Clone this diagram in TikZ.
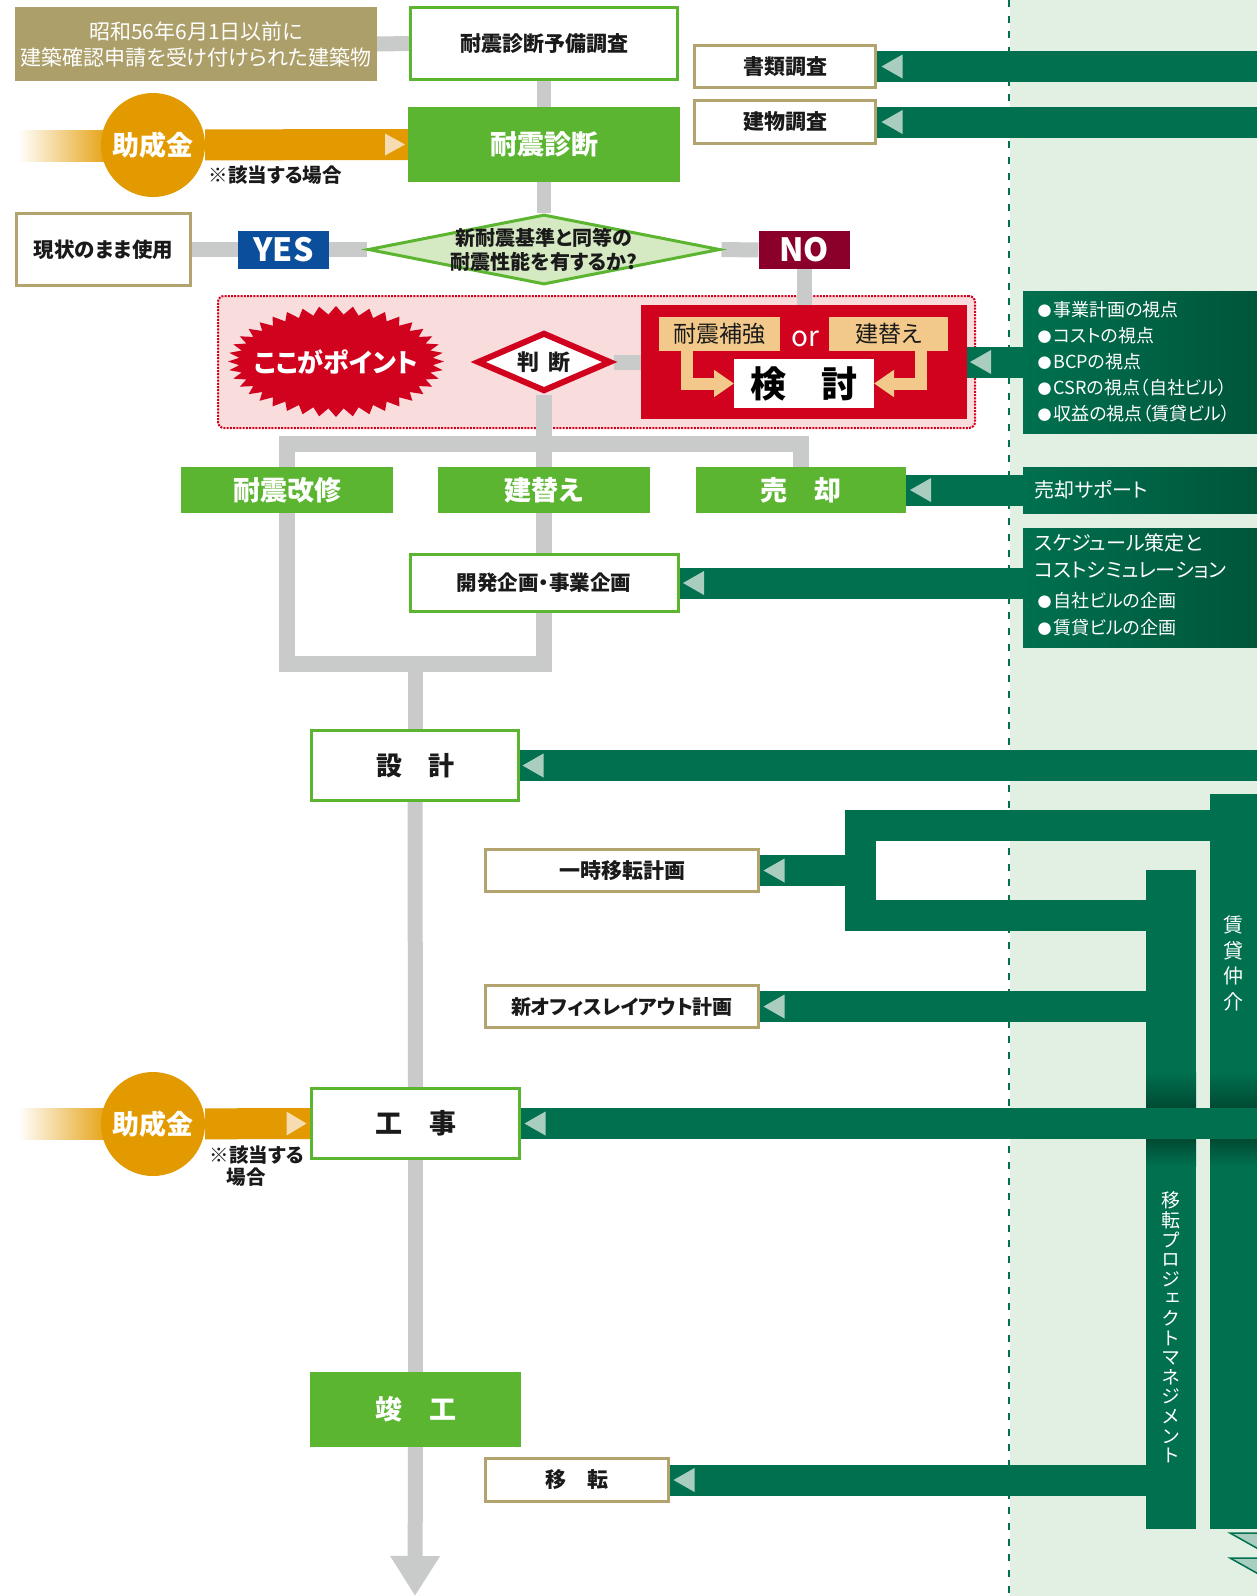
\documentclass[tikz,border=0pt]{standalone}
\usepackage{fontspec}
\setmainfont{Noto Sans CJK JP}[RawFeature=+palt]
\newfontfamily\vfont{Noto Sans CJK JP}[RawFeature=+vert]
\usetikzlibrary{shapes.geometric,arrows.meta,calc}
\pgfdeclarelayer{bg}\pgfdeclarelayer{conn}\pgfsetlayers{bg,conn,main}
\definecolor{tanc}{HTML}{AD9F69}
\definecolor{tanb}{HTML}{B3A36E}
\definecolor{grn}{HTML}{5BB531}
\definecolor{gry}{HTML}{C9CBCA}
\definecolor{dg}{HTML}{00704F}
\definecolor{dgd}{HTML}{00553A}
\definecolor{dgs}{HTML}{004A32}
\definecolor{bgg}{HTML}{E1F0E2}
\definecolor{tri}{HTML}{A9CEC0}
\definecolor{org}{HTML}{E39A00}
\definecolor{orgl}{HTML}{F6DCB0}
\definecolor{blu}{HTML}{0B4F9C}
\definecolor{mar}{HTML}{8B002A}
\definecolor{redc}{HTML}{D0021E}
\definecolor{pinkc}{HTML}{F9DCDC}
\definecolor{ltan}{HTML}{F2C98A}
\definecolor{dia}{HTML}{D5E9C3}
\definecolor{txt}{HTML}{1A1A1A}
\newcommand\fsz[1]{\fontsize{#1}{#1}\selectfont}
\newcommand\blt{{\fontsize{14}{14}\selectfont ●}\hspace{2pt}}
\newcommand\ltri[2]{\fill[tri] ([xshift=#2]#1) -- ++(21,-12) -- ++(0,24) -- cycle;}
\begin{document}
\begin{tikzpicture}[x=1pt,y=-1pt,
  box/.style={rectangle,inner sep=0pt,outer sep=0pt,align=center},
  wg/.style={box,draw=grn,line width=3pt,fill=white,text=txt,font=\bfseries\fsz{21}},
  wt/.style={box,draw=tanb,line width=3pt,fill=white,text=txt,font=\bfseries\fsz{21}},
  gf/.style={box,fill=grn,text=white,font=\bfseries\fsz{27}},
  gline/.style={draw=gry,line width=15pt},
  band/.style={draw=dg,line width=31pt},
  infob/.style={box,left color=dg,right color=dgd},
  jcircle/.style={circle,fill=org,minimum size=104pt,inner sep=0pt,text=white,font=\bfseries\fsz{27}},
  bar/.style={box,fill=dg},
]
\useasboundingbox (0,0) rectangle (1256,1596);

\begin{pgfonlayer}{bg}
  \fill[white] (0,0) rectangle (1256,1596);
  \fill[bgg] (1010,0) rectangle (1262,1600);
  \draw[dg,line width=2.5pt,dash pattern=on 7pt off 8.7pt] (1009,0) -- (1009,1600);
  \node[box,fill=pinkc,draw=redc,line width=2pt,dash pattern=on 2pt off 1.2pt,rounded corners=6pt,minimum width=757pt,minimum height=132pt] (zone) at (596.5,362) {};
\end{pgfonlayer}

% ---------- nodes ----------
\node[box,fill=tanc,text=white,font=\fontsize{21}{26}\selectfont,minimum width=362pt,minimum height=74pt] (cond) at (196,44) {昭和56年6月1日以前に\\建築確認申請を受け付けられた建築物};
\node[wg,minimum width=267pt,minimum height=72pt] (pre) at (544,43.5) {耐震診断予備調査};
\node[wt,minimum width=181pt,minimum height=42pt] (shorui) at (785,66.5) {書類調査};
\node[wt,minimum width=181pt,minimum height=43pt] (tatemono) at (785,122) {建物調査};
\node[gf,minimum width=272pt,minimum height=75pt] (shindan) at (544,144.5) {耐震診断};
\node[jcircle] (jose1) at (153,145) {助成金};
\node[anchor=west,text=txt,font=\bfseries\fsz{19.5}] (note1) at (205,175) {※該当する場合};

\node[wt,font=\bfseries\fsz{20.5},minimum width=174pt,minimum height=72pt] (genjo) at (103.5,249.5) {現状のまま使用};
\node[diamond,draw=grn,line width=3pt,fill=dia,minimum width=352pt,minimum height=70pt,inner sep=0pt] (diam) at (544,249.5) {};
\node[text=txt,font=\bfseries\fontsize{20}{24}\selectfont,align=center] (diamtxt) at (diam.center) {新耐震基準と同等の\\耐震性能を有するか?};
\node[box,fill=blu,text=white,font=\bfseries\fsz{32},minimum width=91pt,minimum height=38pt] (yes) at (283.5,250) {YES};
\node[box,fill=mar,text=white,font=\bfseries\fsz{32},minimum width=91pt,minimum height=38pt] (no) at (804,250) {NO};

% starburst
\fill[redc] (444,361.5) \foreach \i in {1,...,79}{ -- ({336+(97+11*iseven(\i))*cos(\i*4.5)},{361.5+(47+8.5*iseven(\i))*sin(\i*4.5)}) } -- cycle;
\node[text=white,font=\bfseries\fsz{26}] (burst) at (336,362) {ここがポイント};

\node[diamond,draw=redc,line width=6pt,fill=white,minimum width=134pt,minimum height=59pt,inner sep=0pt] (handan) at (544,362) {};
\node[text=txt,font=\bfseries\fsz{22}] (handantxt) at (handan.center) {判\hspace{9pt}断};

\node[box,fill=redc,minimum width=326pt,minimum height=114pt] (redbox) at (804,362) {};
\node[box,fill=ltan,text=txt,font=\fsz{23},minimum width=121pt,minimum height=34pt] (hokyo) at (719.5,334) {耐震補強};
\node[box,fill=ltan,text=txt,font=\fsz{23},minimum width=119pt,minimum height=34pt] (tatekae1) at (888.5,334) {建替え};
\node[text=white,font=\fsz{28}] (ortxt) at (805,339) {or};
\node[box,fill=white,text=black,font=\bfseries\fsz{36},minimum width=140pt,minimum height=49pt] (kento) at (804,383.5) {検\hspace{35pt}討};
\draw[draw=ltan,line width=12pt,line join=miter,-{Triangle[width=26pt,length=20pt]}] ([xshift=-32.5pt]hokyo.south) |- (kento.west);
\draw[draw=ltan,line width=12pt,line join=miter,-{Triangle[width=26pt,length=20pt]}] ([xshift=32.5pt]tatekae1.south) |- (kento.east);

\node[infob,minimum width=237pt,minimum height=142pt] (info1) at (1141.5,362) {};
\node[anchor=west,text=white,font=\fontsize{18}{26}\selectfont,align=left] (info1t) at (1034,362) {\blt 事業計画の視点\\\blt コストの視点\\\blt BCPの視点\\\blt CSRの視点（自社ビル）\\\blt 収益の視点（賃貸ビル）};
\node[infob,minimum width=237pt,minimum height=46pt] (info2) at (1141.5,490) {};
\node[anchor=west,text=white,font=\fsz{20}] (info2t) at (1031,490) {売却サポート};
\node[infob,minimum width=237pt,minimum height=119pt] (info3) at (1141.5,587.5) {};
\node[anchor=west,text=white,font=\fontsize{20}{27}\selectfont,align=left] (info3t) at (1031,585) {スケジュール策定と\\コストシミュレーション\\[3pt]{\fontsize{18}{27}\selectfont \hspace{3pt}\blt 自社ビルの企画}\\{\fontsize{18}{27}\selectfont \hspace{3pt}\blt 賃貸ビルの企画}};

\node[gf,minimum width=212pt,minimum height=46pt] (kaishu) at (287,490) {耐震改修};
\node[gf,minimum width=212pt,minimum height=46pt] (tatekae2) at (544,490) {建替え};
\node[gf,minimum width=210pt,minimum height=46pt] (baikyaku) at (801,490) {売\hspace{27pt}却};
\node[wg,font=\bfseries\fsz{20.5},minimum width=268pt,minimum height=57pt] (kaihatsu) at (544,583) {開発企画・事業企画};

\node[wg,font=\bfseries\fsz{26},minimum width=207pt,minimum height=70pt] (sekkei) at (415,765.5) {設\hspace{26pt}計};
\node[wt,minimum width=273pt,minimum height=42pt] (ichiji) at (622,870.5) {一時移転計画};
\node[wt,font=\bfseries\fsz{20},minimum width=273pt,minimum height=42pt] (office) at (622,1006.5) {新オフィスレイアウト計画};
\node[wg,font=\bfseries\fsz{27},minimum width=208pt,minimum height=70pt] (kouji) at (415.5,1123.5) {工\hspace{27pt}事};
\node[jcircle] (jose2) at (153,1124) {助成金};
\node[anchor=west,text=txt,font=\bfseries\fontsize{19.5}{22}\selectfont,align=left] (note2) at (206,1166) {※該当する\\\hspace{17pt}場合};
\node[gf,minimum width=211pt,minimum height=75pt] (shunko) at (415.5,1409.5) {竣\hspace{27pt}工};
\node[wt,minimum width=183pt,minimum height=43pt] (iten) at (577,1480) {移\hspace{22pt}転};

\coordinate (edgeR) at (1262,0);
\coordinate (merge) at (544,664);
\coordinate (brk) at (860.5,870.5);
\coordinate (endp) at (415,1596);

% ---------- connectors ----------
\begin{pgfonlayer}{conn}
  % grey flow
  \draw[gline] (cond.east) -- (pre.west);
  \draw[gline,line width=14pt] (pre.south) -- (shindan.north);
  \draw[gline,line width=14pt] (shindan.south) -- (diam.north);
  \draw[gline] (genjo.east) -- (diam.west);
  \draw[gline] (diam.east) -- (no.west);
  \draw[gline] (no.south) -- (redbox.north);
  \draw[gline] (handan.east) -- (redbox.west);
  \draw[gline,line width=16pt] (handan.south) -- (tatekae2.north);
  \draw[gline,line width=16pt,line join=miter] (kaishu.north) -- ++(0,-23.5) -| (baikyaku.north);
  \draw[gline,line width=16pt] (tatekae2.south) -- (kaihatsu.north);
  \draw[gline,line width=16pt,line join=miter] (kaishu.south) |- (merge) -- (kaihatsu.south);
  \draw[gline] (merge -| sekkei.north) -- (sekkei.north);
  \draw[gline] (sekkei.south) -- (kouji.north);
  \draw[gline] (kouji.south) -- (shunko.north);
  \draw[gline,-{Triangle[width=47pt,length=40pt]}] (shunko.south) -- (endp);
  % orange subsidy bands
  \fill[left color=white,right color=org] (18,130) rectangle (115,161);
  \draw[draw=org,line width=31pt] (jose1) -- (shindan.west);
  \fill[left color=white,right color=org] (18,1108.5) rectangle (115,1139.5);
  \draw[draw=org,line width=31pt] (jose2) -- (kouji.west);
  % vertical service bars
  \node[bar,minimum width=50pt,minimum height=735pt] (chintai) at (1235,1161.5) {};
  \node[bar,minimum width=50pt,minimum height=659pt] (pm) at (1171,1199.5) {};
  \fill[top color=dg,bottom color=dgs] (1146,1072) rectangle (1196,1108);
  \fill[top color=dg,bottom color=dgs] (1210,1072) rectangle (1262,1108);
  \fill[top color=dgs,bottom color=dg] (1146,1139) rectangle (1196,1166);
  \fill[top color=dgs,bottom color=dg] (1210,1139) rectangle (1262,1166);
  % green service bands
  \draw[band] (shorui.east) -- (shorui.east -| edgeR);
  \draw[band] (tatemono.east) -- (tatemono.east -| edgeR);
  \draw[band] (info1.west) -- (redbox.east);
  \draw[band] (info2.west) -- (baikyaku.east);
  \draw[band] (kaihatsu.east) -- (kaihatsu.east -| info3.west);
  \draw[band] (sekkei.east) -- (sekkei.east -| edgeR);
  \draw[band] (ichiji.east) -- (brk);
  \draw[band,line join=miter] (chintai.west |- 0,825) -- (brk |- 0,825) -- (brk |- 0,915.5) -- (pm.west |- 0,915.5);
  \draw[band] (office.east) -- (office.east -| pm.west);
  \draw[band] (iten.east) -- (iten.east -| pm.west);
  \draw[band] (kouji.east) -- (kouji.east -| edgeR);
\end{pgfonlayer}

\node[text=white,font=\vfont\fontsize{20}{25.7}\selectfont,align=center] (chintaitxt) at (1233,963.5) {賃\\貸\\仲\\介};
\node[text=white,font=\vfont\fontsize{19}{19.6}\selectfont,align=center] (pmtxt) at (1171,1327.5) {移\\転\\プ\\ロ\\ジ\\ェ\\ク\\ト\\マ\\ネ\\ジ\\メ\\ン\\ト};

% arrow marks on bands
\ltri{shorui.east}{6pt}
\ltri{tatemono.east}{6pt}
\ltri{redbox.east}{3pt}
\ltri{baikyaku.east}{4pt}
\ltri{kaihatsu.east}{5pt}
\ltri{sekkei.east}{4pt}
\ltri{ichiji.east}{5pt}
\ltri{office.east}{5pt}
\ltri{kouji.east}{5pt}
\ltri{iten.east}{5pt}
\fill[orgl] ([xshift=-3pt]shindan.west) -- ++(-20,-11) -- ++(0,22) -- cycle;
\fill[orgl] ([xshift=-5pt]kouji.west) -- ++(-20,-12) -- ++(0,24) -- cycle;

% bottom-right marks
\filldraw[fill=tri,draw=dg,line width=1.5pt] (1230,1533) -- (1262,1533) -- (1262,1551) -- cycle;
\filldraw[fill=tri,draw=dg,line width=1.5pt] (1230,1558) -- (1262,1558) -- (1262,1576) -- cycle;
\end{tikzpicture}
\end{document}
